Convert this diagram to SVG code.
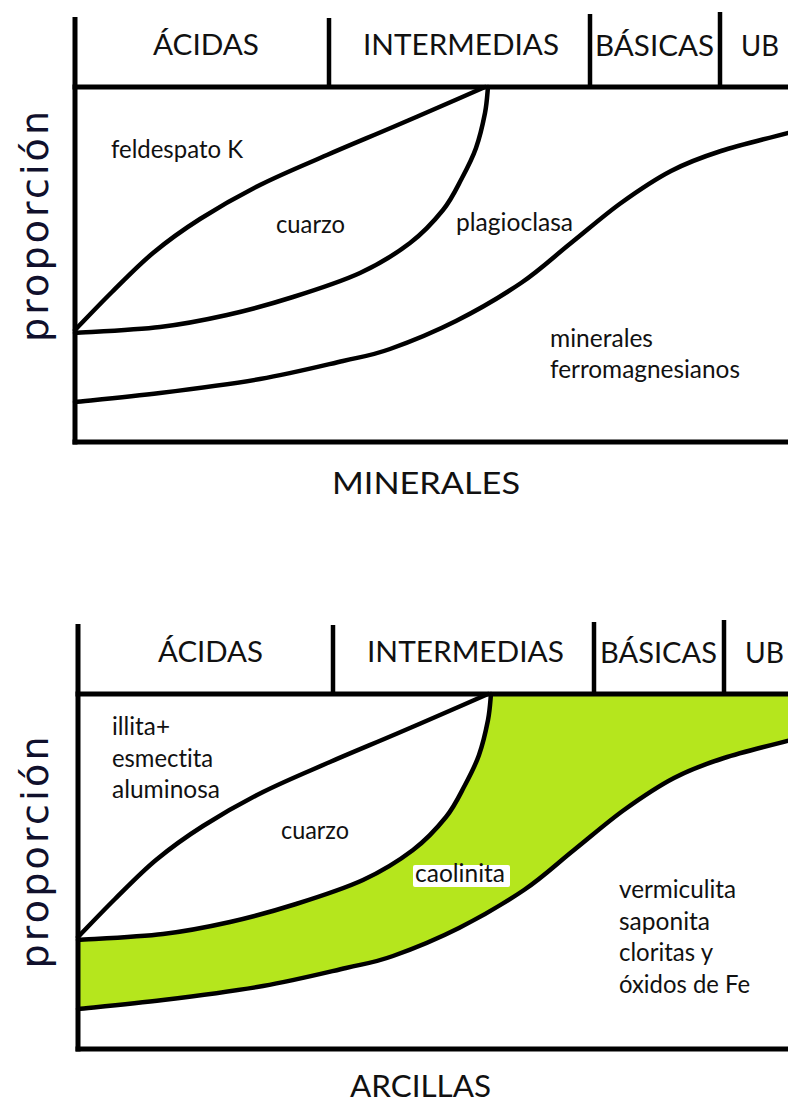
<svg xmlns="http://www.w3.org/2000/svg" width="788" height="1102" viewBox="0 0 788 1102">
<defs>
<style>
text{font-variant-ligatures:none}
.ax{stroke:#000;stroke-width:5;fill:none}
.dv{stroke:#000;stroke-width:4.5;fill:none}
.cv{stroke:#000;stroke-width:4.5;fill:none;stroke-linecap:round}
.hd{font-family:Lato,"Open Sans",sans-serif;font-size:28px;fill:#111}
.lb{font-family:Lato,"Open Sans",sans-serif;font-size:25px;fill:#111}
.tt{font-family:Lato,"Open Sans",sans-serif;font-size:31.5px;fill:#111}
.yl{font-family:"DejaVu Sans",sans-serif;font-size:38px;fill:#10102c}
</style>
<path id="c1" d="M75,330 C81.2,323.7 99,304.8 112,292 C125,279.2 138.3,265.2 153,253 C167.7,240.8 182.2,230.3 200,219 C217.8,207.7 238.8,195.7 260,185 C281.2,174.3 304.8,164.7 327,155 C349.2,145.3 370.8,136.5 393,127 C415.2,117.5 444.7,104.7 460,98 C475.3,91.3 480.8,88.8 485,87"/>
<path id="c2" d="M75,333 C89.2,332 134.7,330 160,327 C185.3,324 204.8,320 227,315 C249.2,310 270.8,304 293,297 C315.2,290 340.5,282 360,273 C379.5,264 396.2,253.5 410,243 C423.8,232.5 434.3,220.8 443,210 C451.7,199.2 456.5,188.3 462,178 C467.5,167.7 472.2,158.8 476,148 C479.8,137.2 483,123.2 485,113 C487,102.8 487.5,91.3 488,87"/>
<path id="c3" d="M75,402 C89.2,400.5 129.2,396.8 160,393 C190.8,389.2 229.5,384.3 260,379 C290.5,373.7 321.3,366 343,361 C364.7,356 371.2,355.7 390,349 C408.8,342.3 434.2,332 456,321 C477.8,310 501.8,296 521,283 C540.2,270 554.3,256.3 571,243 C587.7,229.7 604.3,215 621,203 C637.7,191 654.3,179.7 671,171 C687.7,162.3 701.5,157.3 721,151 C740.5,144.7 776.8,136 792,132"/>
</defs>
<rect x="0" y="0" width="788" height="1102" fill="#fff"/>

<!-- Chart 1: MINERALES -->
<g id="chart-minerales">
  <g id="curves-minerales">
    <use href="#c1" class="cv"/>
    <use href="#c2" class="cv"/>
    <use href="#c3" class="cv"/>
  </g>
  <g id="frame-minerales">
    <line class="ax" x1="75" y1="17" x2="75" y2="444.5"/>
    <line class="ax" x1="72.5" y1="87" x2="790" y2="87"/>
    <line class="ax" x1="72.5" y1="442" x2="790" y2="442"/>
    <line class="dv" x1="329" y1="18" x2="329" y2="87"/>
    <line class="dv" x1="590" y1="14" x2="590" y2="87"/>
    <line class="dv" x1="720" y1="12" x2="720" y2="87"/>
  </g>
  <g id="headers-minerales">
    <text class="hd" x="153" y="55" textLength="106" lengthAdjust="spacingAndGlyphs">ÁCIDAS</text>
    <text class="hd" x="363" y="55" textLength="196" lengthAdjust="spacingAndGlyphs">INTERMEDIAS</text>
    <text class="hd" x="595" y="56" textLength="119" lengthAdjust="spacingAndGlyphs">BÁSICAS</text>
    <text class="hd" x="741" y="56" textLength="38" lengthAdjust="spacingAndGlyphs">UB</text>
  </g>
  <g id="labels-minerales">
    <text class="lb" x="111" y="158" textLength="132" lengthAdjust="spacingAndGlyphs">feldespato K</text>
    <text class="lb" x="276" y="233" textLength="69" lengthAdjust="spacingAndGlyphs">cuarzo</text>
    <text class="lb" x="456" y="231" textLength="117" lengthAdjust="spacingAndGlyphs">plagioclasa</text>
    <text class="lb" x="550" y="347" textLength="103" lengthAdjust="spacingAndGlyphs">minerales</text>
    <text class="lb" x="550" y="378" textLength="190" lengthAdjust="spacingAndGlyphs">ferromagnesianos</text>
  </g>
  <text class="yl" transform="translate(48,226.5) rotate(-90)" text-anchor="middle" textLength="231" lengthAdjust="spacing">proporción</text>
  <text class="tt" x="332" y="494" textLength="188" lengthAdjust="spacingAndGlyphs">MINERALES</text>
</g>

<!-- Chart 2: ARCILLAS -->
<g id="chart-arcillas">
  <g id="geom-arcillas" transform="translate(3,607)">
    <path id="caolinita-area" fill="#b5e61d" d="M75,333 C89.2,332 134.7,330 160,327 C185.3,324 204.8,320 227,315 C249.2,310 270.8,304 293,297 C315.2,290 340.5,282 360,273 C379.5,264 396.2,253.5 410,243 C423.8,232.5 434.3,220.8 443,210 C451.7,199.2 456.5,188.3 462,178 C467.5,167.7 472.2,158.8 476,148 C479.8,137.2 483,123.2 485,113 C487,102.8 487.5,91.3 488,87 L790,87 L790,133 L788,133 C776.8,136 740.5,144.7 721,151 C701.5,157.3 687.7,162.3 671,171 C654.3,179.7 637.7,191 621,203 C604.3,215 587.7,229.7 571,243 C554.3,256.3 540.2,270 521,283 C501.8,296 477.8,310 456,321 C434.2,332 408.8,342.3 390,349 C371.2,355.7 364.7,356 343,361 C321.3,366 290.5,373.7 260,379 C229.5,384.3 190.8,389.2 160,393 C129.2,396.8 89.2,400.5 75,402 Z"/>
    <g id="curves-arcillas">
      <use href="#c1" class="cv"/>
      <use href="#c2" class="cv"/>
      <use href="#c3" class="cv"/>
    </g>
    <g id="frame-arcillas">
      <line class="ax" x1="75" y1="17" x2="75" y2="444.5"/>
      <line class="ax" x1="72.5" y1="87" x2="790" y2="87"/>
      <line class="ax" x1="72.5" y1="442" x2="790" y2="442"/>
      <line class="dv" x1="330" y1="18" x2="330" y2="87"/>
      <line class="dv" x1="591" y1="15" x2="591" y2="87"/>
      <line class="dv" x1="721" y1="13" x2="721" y2="87"/>
    </g>
  </g>
  <g id="headers-arcillas">
    <text class="hd" x="158" y="662" textLength="105" lengthAdjust="spacingAndGlyphs">ÁCIDAS</text>
    <text class="hd" x="367" y="662" textLength="197" lengthAdjust="spacingAndGlyphs">INTERMEDIAS</text>
    <text class="hd" x="600" y="663" textLength="117" lengthAdjust="spacingAndGlyphs">BÁSICAS</text>
    <text class="hd" x="745" y="663" textLength="39" lengthAdjust="spacingAndGlyphs">UB</text>
  </g>
  <g id="labels-arcillas">
    <text class="lb" x="112" y="735" textLength="58" lengthAdjust="spacingAndGlyphs">illita+</text>
    <text class="lb" x="112" y="767" textLength="101" lengthAdjust="spacingAndGlyphs">esmectita</text>
    <text class="lb" x="112" y="798" textLength="108" lengthAdjust="spacingAndGlyphs">aluminosa</text>
    <text class="lb" x="281" y="839" textLength="68" lengthAdjust="spacingAndGlyphs">cuarzo</text>
    <rect x="413" y="865" width="97" height="22" rx="2" fill="#fff"/>
    <text class="lb" x="415" y="882" textLength="90" lengthAdjust="spacingAndGlyphs">caolinita</text>
    <text class="lb" x="619" y="898" textLength="117" lengthAdjust="spacingAndGlyphs">vermiculita</text>
    <text class="lb" x="619" y="930" textLength="91" lengthAdjust="spacingAndGlyphs">saponita</text>
    <text class="lb" x="619" y="961" textLength="94" lengthAdjust="spacingAndGlyphs">cloritas y</text>
    <text class="lb" x="619" y="993" textLength="131" lengthAdjust="spacingAndGlyphs">óxidos de Fe</text>
  </g>
  <text class="yl" transform="translate(48,852.5) rotate(-90)" text-anchor="middle" textLength="232" lengthAdjust="spacing">proporción</text>
  <text class="tt" x="350" y="1097" textLength="141" lengthAdjust="spacingAndGlyphs">ARCILLAS</text>
</g>
</svg>
